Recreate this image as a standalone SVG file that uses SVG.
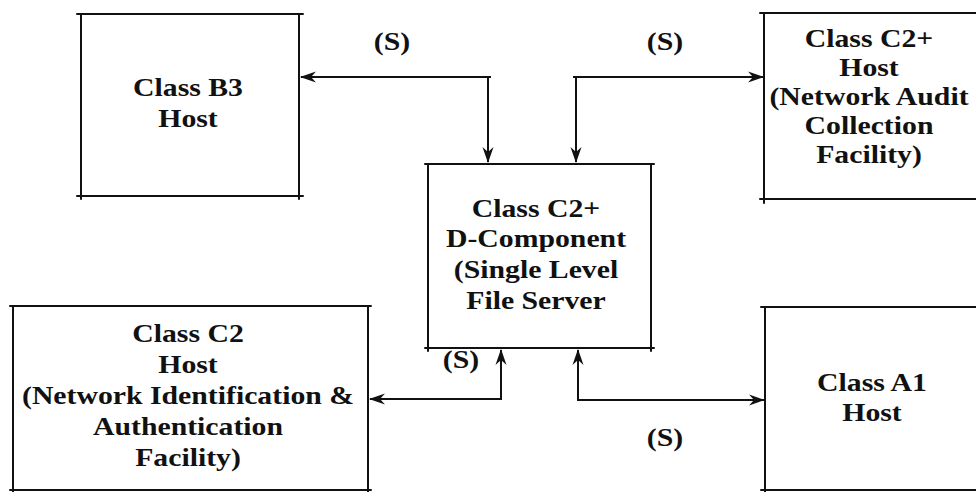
<svg xmlns="http://www.w3.org/2000/svg" width="976" height="492" viewBox="0 0 976 492">
  <style>
    .box { fill: none; stroke: #111; stroke-width: 2; stroke-linecap: round; }
    .wire { fill: none; stroke: #111; stroke-width: 2; }
    .lbl { font-family: "Liberation Serif", "Times New Roman", serif; font-weight: bold; font-size: 25px; fill: #111; text-anchor: middle; }
  </style>
  <defs>
    <marker id="head" markerUnits="userSpaceOnUse" markerWidth="20" markerHeight="14" viewBox="-17 -7 20 14" refX="0" refY="0" orient="auto">
      <path d="M1,0 L-15,-5.5 L-10,0 L-15,5.5 Z" fill="#111"/>
    </marker>
  </defs>

  <rect width="976" height="492" fill="#fff"/>

  <!-- Class B3 host -->
  <g id="b3-host">
    <path class="box" d="M77,14 H303 M81,14 V199 M299,14 V199 M77,196 H303"/>
    <g transform="translate(188 0) scale(1.19 1)">
      <text class="lbl" x="0" y="96">Class B3</text>
      <text class="lbl" x="0" y="127">Host</text>
    </g>
  </g>

  <!-- Class C2+ host (audit collection) -->
  <g id="c2plus-host">
    <path class="box" d="M760,13 H990 M764,13 V203 M760,199 H990"/>
    <g transform="translate(869 0) scale(1.19 1)">
      <text class="lbl" x="0" y="47">Class C2+</text>
      <text class="lbl" x="0" y="76">Host</text>
      <text class="lbl" x="0" y="105">(Network Audit</text>
      <text class="lbl" x="0" y="134">Collection</text>
      <text class="lbl" x="0" y="163">Facility)</text>
    </g>
  </g>

  <!-- Class C2+ D-Component file server -->
  <g id="file-server">
    <path class="box" d="M425,164 H654 M428,164 V351 M651,164 V351 M425,348 H654"/>
    <g transform="translate(536 0) scale(1.19 1)">
      <text class="lbl" x="0" y="217">Class C2+</text>
      <text class="lbl" x="0" y="247">D-Component</text>
      <text class="lbl" x="0" y="278">(Single Level</text>
      <text class="lbl" x="0" y="309">File Server</text>
    </g>
  </g>

  <!-- Class C2 host (identification and authentication) -->
  <g id="c2-host">
    <path class="box" d="M10,306 H371 M13,306 V492 M368,306 V492 M10,490 H371"/>
    <g transform="translate(188 0) scale(1.19 1)">
      <text class="lbl" x="0" y="342">Class C2</text>
      <text class="lbl" x="0" y="373">Host</text>
      <text class="lbl" x="0" y="404">(Network Identification &amp;</text>
      <text class="lbl" x="0" y="435">Authentication</text>
      <text class="lbl" x="0" y="466">Facility)</text>
    </g>
  </g>

  <!-- Class A1 host -->
  <g id="a1-host">
    <path class="box" d="M761,307 H990 M765,307 V492 M761,490 H990"/>
    <g transform="translate(872 0) scale(1.19 1)">
      <text class="lbl" x="0" y="391">Class A1</text>
      <text class="lbl" x="0" y="421">Host</text>
    </g>
  </g>

  <!-- Links -->
  <g id="connectors">
    <path class="wire" d="M491,77 H301" marker-end="url(#head)"/>
    <path class="wire" d="M488,77 V162" marker-end="url(#head)"/>
    <path class="wire" d="M573,77 H763" marker-end="url(#head)"/>
    <path class="wire" d="M576,77 V162" marker-end="url(#head)"/>
    <path class="wire" d="M502,399 H370" marker-end="url(#head)"/>
    <path class="wire" d="M501,400 V350" marker-end="url(#head)"/>
    <path class="wire" d="M578,401 V350" marker-end="url(#head)"/>
    <path class="wire" d="M577,400 H764" marker-end="url(#head)"/>
    <g transform="translate(392 0) scale(1.19 1)"><text class="lbl" x="0" y="50">(S)</text></g>
    <g transform="translate(665 0) scale(1.19 1)"><text class="lbl" x="0" y="50">(S)</text></g>
    <g transform="translate(461 0) scale(1.19 1)"><text class="lbl" x="0" y="368">(S)</text></g>
    <g transform="translate(665 0) scale(1.19 1)"><text class="lbl" x="0" y="446">(S)</text></g>
  </g>
</svg>
